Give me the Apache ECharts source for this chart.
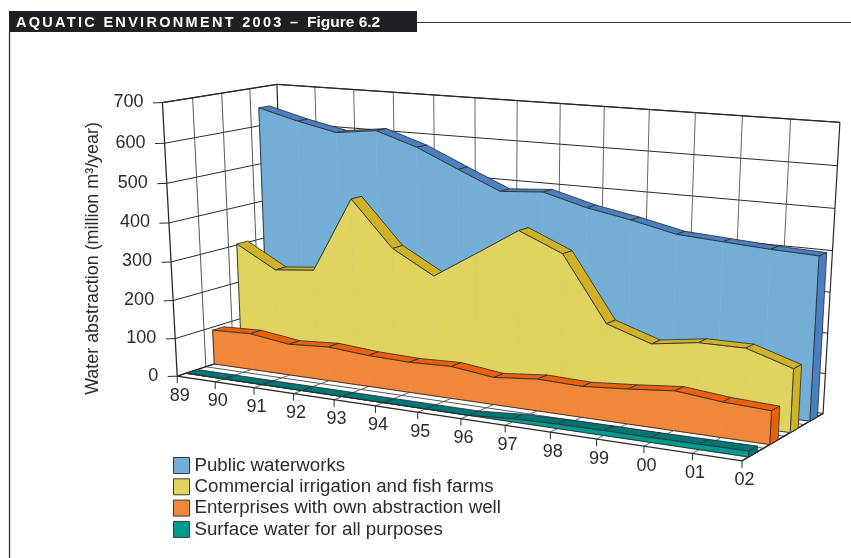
<!DOCTYPE html>
<html><head><meta charset="utf-8">
<style>html,body{margin:0;padding:0;background:#fff}#c{width:851px;height:558px}</style>
<script src="https://cdn.jsdelivr.net/npm/echarts@6/dist/echarts.min.js"></script>
</head><body><div id="c"></div>
<script>
// ---------- data ----------
const years = ['89','90','91','92','93','94','95','96','97','98','99','00','01','02'];
const yTicks = [0,100,200,300,400,500,600,700];
const publicWaterworks = [647,620,598,611,577,530,484,492,463,443,419,412,405,401];
const commercialIrrigation = [303,245,256,452,336,277,345,414,368,208,172,189,190,155];
const enterprises = [92,96,82,89,81,78,82,69,80,77,86,97,86,81];
const surfaceWater = [0,0,0,0,0,0,0,0,8,11,12,12,13,14];
const seriesNames = ['Public waterworks','Commercial irrigation and fish farms','Enterprises with own abstraction well','Surface water for all purposes'];
const yTitle = 'Water abstraction (million m\u00B3/year)';

// ---------- styling ----------
const INK='#2b2b2e', LINE='#2a2a2a', FONT='"Liberation Sans", Arial, sans-serif', FS=18, FS_LEG=18.7, FS_TITLE=17.9;
const slabs=[
 {v:publicWaterworks,     f:'#72AED6',t:'#4A80C0',wf:.825,wb:.925},
 {v:commercialIrrigation, f:'#E1D35F',t:'#CFB228',wf:.575,wb:.675},
 {v:enterprises,          f:'#F0873A',t:'#EE6006',wf:.325,wb:.425},
 {v:surfaceWater,         f:'#009A8F',t:'#007575',wf:.075,wb:.175}
];

// ---------- perspective calibration of the plot box (u along years, t up the value axis, w into depth) ----------
const calib=[
 [0,0,0,177,375],[0,1,0,162.5,103],[0,1,1,277,84],[1,1,1,840,122],[1,0,1,823,413],[1,0,0,742,461],
 [0,0,1,286,341],[6/13,0,0,418,413],[0,3/7,0,171,262],[6/13,1,1,517,101],[0,1,.5,221.7,93]
];
function solve(A,b){const n=b.length;const M=A.map((r,i)=>r.concat(b[i]));
 for(let c=0;c<n;c++){let p=c;for(let r=c+1;r<n;r++)if(Math.abs(M[r][c])>Math.abs(M[p][c]))p=r;[M[c],M[p]]=[M[p],M[c]];
  for(let r=0;r<n;r++)if(r!==c){const f=M[r][c]/M[c][c];for(let k=c;k<=n;k++)M[r][k]-=f*M[c][k];}}
 return M.map((r,i)=>r[n]/r[i]);}
const H=(function(){const R=[],Y=[];
 calib.forEach(([u,t,w,x,y])=>{R.push([u,t,w,1,0,0,0,0,-x*u,-x*t,-x*w]);Y.push(x);R.push([0,0,0,0,u,t,w,1,-y*u,-y*t,-y*w]);Y.push(y);});
 const A=[],b=[];for(let i=0;i<11;i++){A.push([]);let s=0;for(let j=0;j<11;j++){let q=0;R.forEach(r=>q+=r[i]*r[j]);A[i].push(q);}R.forEach((r,k)=>s+=r[i]*Y[k]);b.push(s);}
 return solve(A,b);})();
function cube(u,t,w){const d=H[8]*u+H[9]*t+H[10]*w+1;return [(H[0]*u+H[1]*t+H[2]*w+H[3])/d,(H[4]*u+H[5]*t+H[6]*w+H[7])/d];}
// value -> axis scale -> box -> page
function P(params,api,i,v,w){const c=api.coord([i,v]),g=params.coordSys;return cube((c[0]-g.x)/g.width,(g.y+g.height-c[1])/g.height,w);}
const line=(pts,lw,col,z)=>({type:'polyline',shape:{points:pts},style:{stroke:col||LINE,fill:null,lineWidth:lw||1},z2:z||0,silent:true});
const poly=(pts,fill,stroke,lw,z)=>({type:'polygon',shape:{points:pts},style:{fill:fill,stroke:stroke,lineWidth:lw},z2:z,silent:true});
const label=(x,y,s,al)=>({type:'text',x:x,y:y,style:{text:s,font:FS+'px '+FONT,fill:INK,align:al||'center',verticalAlign:'middle'},z2:5,silent:true});

// ---------- layers ----------
const lastIdx=years.length-1, topVal=yTicks[yTicks.length-1];
const yGridSeries={type:'custom',z:1,coordinateSystem:'cartesian2d',encode:{x:0,y:1},data:yTicks.map(v=>[0,v]),silent:true,
 renderItem(params,api){const v=api.value(1),a=P(params,api,0,v,0),b=P(params,api,0,v,1),c=P(params,api,lastIdx,v,1);
  return {type:'group',children:[line([a,b,c],1),line([[a[0]-9.5,a[1]+.3],a],1),label(a[0]-19,a[1]-.5,String(v),'right')]};}};
const xGridSeries={type:'custom',z:1,coordinateSystem:'cartesian2d',encode:{x:0,y:1},data:years.map((y,i)=>[i,0]),silent:true,
 renderItem(params,api){const i=api.value(0),a=P(params,api,i,0,0),b=P(params,api,i,0,1),c=P(params,api,i,topVal,1);
  return {type:'group',children:[line([a,b,c],i===0||i===lastIdx?1.2:.9,i===0||i===lastIdx?LINE:'#555'),line([a,[a[0],a[1]+7]],1),label(a[0]+2.5,a[1]+19.5,years[i])]};}};
const depthSteps=[.25,.5,.75];
const depthSeries={type:'custom',z:1,coordinateSystem:'cartesian2d',encode:{x:0,y:1},data:depthSteps.map(d=>[0,d]),silent:true,
 renderItem(params,api){const w=depthSteps[params.dataIndex];return {type:'group',children:[
  line([P(params,api,0,topVal,w),P(params,api,0,0,w),P(params,api,lastIdx,0,w)],.9,'#444')]};}};
const frameSeries={type:'custom',z:1,coordinateSystem:'cartesian2d',encode:{x:0,y:1},data:[[0,0]],silent:true,
 renderItem(params,api){return {type:'group',children:[
  line([P(params,api,0,topVal,1),P(params,api,0,topVal,0),P(params,api,0,0,0),P(params,api,lastIdx,0,0),P(params,api,lastIdx,0,1)],1.3),
  line([P(params,api,0,topVal,1),P(params,api,lastIdx,topVal,1)],1.2)]};}};

const dataSeries=slabs.map((s,k)=>({type:'custom',name:seriesNames[k],z:2+k,coordinateSystem:'cartesian2d',encode:{x:0,y:1},
 itemStyle:{color:s.f},data:s.v.map((v,i)=>[i,v]),silent:true,
 renderItem(params,api){const i=api.value(0),v=api.value(1),ch=[];
  const a=P(params,api,i,v,s.wf),a0=P(params,api,i,0,s.wf),ab=P(params,api,i,v,s.wb),ab0=P(params,api,i,0,s.wb);
  if(i<lastIdx){const n=s.v[i+1],b=P(params,api,i+1,n,s.wf),b0=P(params,api,i+1,0,s.wf),bb=P(params,api,i+1,n,s.wb);
   ch.push(poly([a,b,bb,ab],s.t,LINE,.8,1));
   ch.push(poly([a,b,b0,a0],s.f,s.f,.6,2));
   ch.push(line([a,b],.9,LINE,3));ch.push(line([a0,b0],.9,LINE,3));
  } else {
   ch.push(poly([a,ab,ab0,a0],s.t,LINE,.8,1.5));
   ch.push(line([a,a0],.9,LINE,3));
  }
  if(i===0)ch.push(line([a,a0],.9,LINE,3));
  return {type:'group',children:ch};}}));

// Wide tracking on the running head
const _ft=CanvasRenderingContext2D.prototype.fillText;
CanvasRenderingContext2D.prototype.fillText=function(t,x,y,m){
 if(String(t).indexOf('AQUATIC')===0){this.letterSpacing='2.3px';_ft.call(this,t,x,y);this.letterSpacing='0px';}
 else if(m===undefined)_ft.call(this,t,x,y);else _ft.call(this,t,x,y,m);};

const chart=echarts.init(document.getElementById('c'),null,{renderer:'canvas'});
chart.setOption({
 animation:false,backgroundColor:'#fff',
 grid:{left:10,right:10,top:10,bottom:10},
 xAxis:{type:'category',data:years,boundaryGap:false,show:false},
 yAxis:{type:'value',min:0,max:700,interval:100,show:false},
 legend:{data:seriesNames,orient:'vertical',left:173,top:456,padding:0,itemWidth:16,itemHeight:16,itemGap:2.3,selectedMode:false,icon:'rect',
  itemStyle:{borderColor:'#3a3a3a',borderWidth:1},textStyle:{fontFamily:FONT,fontSize:FS_LEG,color:INK,padding:[0,0,0,0]}},
 graphic:[
  {type:'rect',shape:{x:9,y:11,width:408,height:21},style:{fill:'#1f1f24'},silent:true},
  {type:'line',shape:{x1:417,y1:22.5,x2:851,y2:22.5},style:{stroke:'#333',lineWidth:1},silent:true},
  {type:'line',shape:{x1:9.5,y1:32,x2:9.5,y2:558},style:{stroke:'#333',lineWidth:1.3},silent:true},
  {type:'text',x:16,y:22.5,style:{text:'AQUATIC ENVIRONMENT 2003 \u2013',font:'bold 14.5px '+FONT,fill:'#fff',verticalAlign:'middle'},silent:true},
  {type:'text',x:307,y:22.5,style:{text:'Figure 6.2',font:'bold 15.5px '+FONT,fill:'#fff',verticalAlign:'middle'},silent:true},
  {type:'text',x:93,y:258.5,rotation:Math.PI/2,style:{text:yTitle,font:FS_TITLE+'px '+FONT,fill:INK,align:'center',verticalAlign:'middle'},silent:true}
 ],
 series:[yGridSeries,depthSeries,xGridSeries,frameSeries].concat(dataSeries)
});
</script></body></html>
